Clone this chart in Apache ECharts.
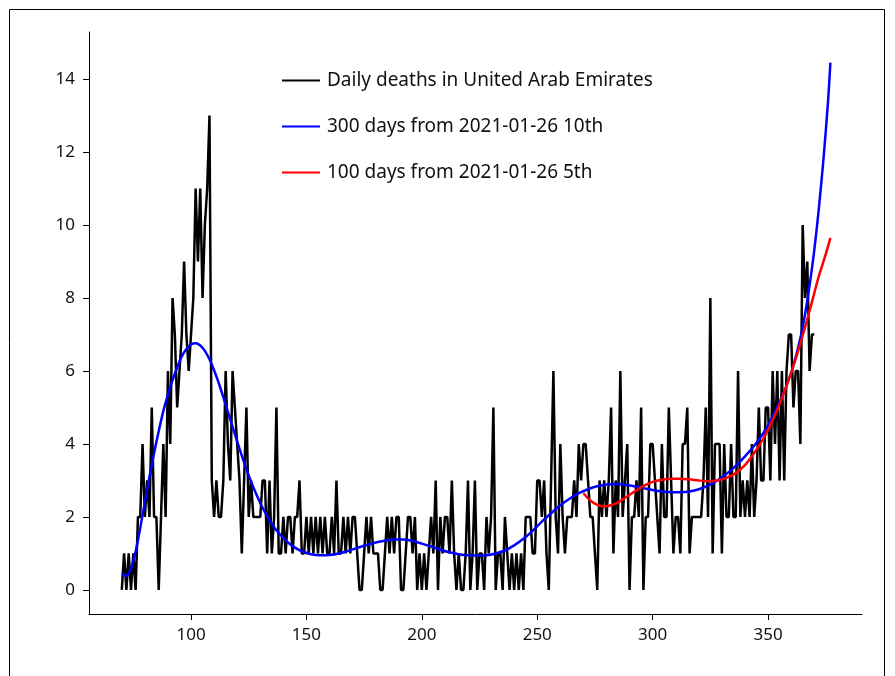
<!DOCTYPE html>
<html>
<head>
<meta charset="utf-8">
<script src="https://cdn.jsdelivr.net/npm/echarts@6/dist/echarts.min.js"></script>
<style>
html,body{margin:0;padding:0;background:#fff;}
#chart{width:895px;height:676px;}
</style>
</head>
<body>
<div id="chart"></div>
<script>
// ---- data ----
const firstDay = 70;
const deaths = [
  0,1,0,1,0,1,0,2,2,4,
  2,3,2,5,2,2,0,2,4,2,
  6,4,8,7,5,6,7,9,7,6,
  7,8,11,9,11,8,10,11,13,3,
  2,3,2,2,3,6,4,3,6,5,
  4,3,1,3,5,2,3,2,2,2,
  2,3,3,1,3,1,2,5,1,1,
  2,1,2,2,1,2,2,3,1,1,
  2,1,2,1,2,1,2,1,2,1,
  1,2,1,3,1,1,2,1,2,1,
  2,2,1,0,0,1,2,1,2,1,
  1,1,0,0,1,2,1,2,1,2,
  2,0,0,1,2,2,1,2,0,1,
  0,1,0,1,2,1,3,0,2,1,
  2,2,1,3,1,0,1,0,0,1,
  3,0,1,3,0,1,1,0,2,1,
  2,5,0,1,1,0,2,1,0,1,
  0,1,0,1,0,2,2,2,1,1,
  3,3,2,3,1,0,3,6,2,1,
  4,2,1,2,2,2,3,2,4,3,
  4,4,3,2,2,1,0,3,2,3,
  2,3,5,1,3,2,6,2,3,4,
  0,2,2,3,2,5,0,2,2,4,
  4,3,2,1,4,2,2,5,3,1,
  2,2,1,4,4,5,1,2,2,2,
  2,2,3,5,2,8,1,4,4,4,
  1,4,2,2,4,2,2,6,2,3,
  2,3,2,4,2,3,5,3,3,5,
  5,3,6,4,6,3,6,3,6,7,
  7,5,6,6,4,10,8,9,6,7,7
];
const blueDays = [70,72,74,76,78,80,82,84,86,88,90,92,94,96,98,100,102,104,106,108,110,112,114,116,118,120,122,124,126,128,130,132,134,136,138,140,144,148,152,156,160,164,168,172,176,180,184,188,192,196,200,204,208,212,216,220,224,228,232,236,240,244,248,252,256,260,264,268,272,276,280,284,288,292,296,300,304,308,312,316,320,324,328,332,336,340,344,348,352,355,358,361,364,366,368,370,372,374,376,377];
const blueValues = [0.45,0.38,0.6,1.05,1.7,2.4,3.1,3.75,4.35,4.9,5.35,5.75,6.1,6.4,6.6,6.73,6.76,6.7,6.55,6.32,6.02,5.67,5.28,4.88,4.47,4.07,3.68,3.31,2.97,2.66,2.38,2.13,1.91,1.72,1.56,1.42,1.2,1.06,0.98,0.95,0.96,1.0,1.07,1.15,1.23,1.3,1.35,1.38,1.38,1.34,1.27,1.19,1.1,1.03,0.98,0.95,0.94,0.95,1.0,1.08,1.22,1.4,1.62,1.87,2.1,2.32,2.5,2.65,2.76,2.84,2.89,2.9,2.88,2.84,2.79,2.74,2.7,2.68,2.68,2.7,2.76,2.86,3.0,3.18,3.4,3.66,3.95,4.3,4.75,5.15,5.6,6.15,6.9,7.55,8.35,9.3,10.45,11.8,13.4,14.45];
const redDays = [270,273,276,279,282,285,288,291,294,297,300,304,308,312,316,320,324,328,332,336,340,344,348,352,356,360,364,368,372,375,377];
const redValues = [2.65,2.45,2.33,2.29,2.32,2.4,2.52,2.65,2.77,2.88,2.96,3.02,3.05,3.05,3.03,3.0,2.98,3.0,3.07,3.2,3.42,3.75,4.15,4.65,5.25,5.95,6.75,7.65,8.6,9.2,9.65];
const xTicks = [100,150,200,250,300,350];
const yTicks = [0,2,4,6,8,10,12,14];
const seriesNames = ['Daily deaths in United Arab Emirates','300 days from 2021-01-26 10th','100 days from 2021-01-26 5th'];

// ---- build ----
const blackData = deaths.map((v,i)=>[firstDay+i, v]);
const blueData = blueDays.map((d,i)=>[d, blueValues[i]]);
const redData = redDays.map((d,i)=>[d, redValues[i]]);

const FONT = '"Noto Sans", "Open Sans", sans-serif';
const chart = echarts.init(document.getElementById('chart'), null, {renderer:'canvas'});
chart.setOption({
  animation:false,
  backgroundColor:'#fff',
  grid:{left:89, top:32, right:33, bottom:62, containLabel:false},
  graphic:[{
    type:'rect', silent:true, z:-1,
    shape:{x:9.5, y:9.5, width:875, height:720},
    style:{fill:'none', stroke:'#000', lineWidth:1}
  }],
  legend:{
    orient:'vertical', left:277, top:66, itemWidth:38, itemHeight:2, itemGap:27,
    icon:'rect', textStyle:{fontFamily:FONT, fontSize:19, color:'#111', padding:[0,0,0,2]},
    data:seriesNames
  },
  xAxis:{
    type:'value', min:55.8, max:390.7,
    splitLine:{show:false},
    axisLine:{show:true, onZero:false, lineStyle:{color:'#000', width:1}},
    axisTick:{show:true, length:6, customValues:xTicks, lineStyle:{color:'#000'}},
    axisLabel:{customValues:xTicks, fontFamily:FONT, fontSize:17, color:'#111', margin:13}
  },
  yAxis:{
    type:'value', min:-0.66, max:15.29,
    splitLine:{show:false},
    axisLine:{show:true, onZero:false, lineStyle:{color:'#000', width:1}},
    axisTick:{show:true, length:6, customValues:yTicks, lineStyle:{color:'#000'}},
    axisLabel:{customValues:yTicks, fontFamily:FONT, fontSize:17, color:'#111', margin:14}
  },
  series:[
    {name:seriesNames[0], type:'line', data:blackData, showSymbol:false, color:'#000',
     lineStyle:{color:'#000', width:2.5}, z:2},
    {name:seriesNames[1], type:'line', data:blueData, showSymbol:false, color:'#0000ff',
     smooth:0.3, lineStyle:{color:'#0000ff', width:2.5}, z:3},
    {name:seriesNames[2], type:'line', data:redData, showSymbol:false, color:'#ff0000',
     smooth:0.3, lineStyle:{color:'#ff0000', width:2.5}, z:4}
  ]
});
</script>
</body>
</html>
